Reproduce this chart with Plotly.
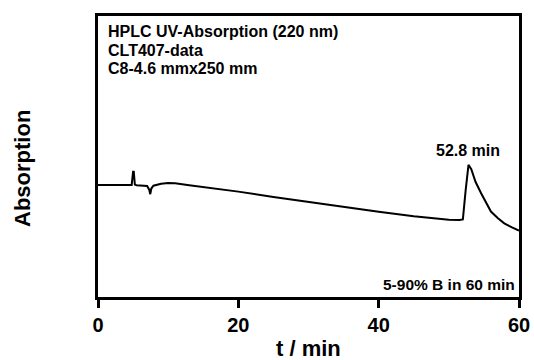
import plotly.graph_objects as go

# Chromatogram trace (time in min, absorption in arbitrary units)
t_min = [0, 4.8, 5.0, 5.1, 5.25, 5.5, 7.0, 7.3, 7.45, 7.6, 7.9, 9.0, 10.0, 11.0,
         13.0, 16.0, 20.0, 25.0, 30.0, 35.0, 40.0, 45.0, 48.0, 50.0, 51.5, 52.0,
         52.4, 52.8, 53.2, 53.8, 54.6, 55.3, 56.0, 57.0, 57.9, 59.0, 60.0]
absorption = [39.9, 39.9, 44.6, 44.6, 40.0, 39.8, 39.5, 38.2, 36.6, 38.6, 39.6, 40.3, 40.6, 40.5,
              39.8, 38.9, 37.5, 35.6, 33.8, 32.0, 30.3, 28.7, 27.9, 27.5, 27.4, 27.6,
              38.0, 47.0, 45.5, 41.0, 36.9, 33.4, 30.4, 28.0, 26.2, 24.8, 23.6]

x_ticks = [0, 20, 40, 60]
x_title = "t / min"
y_title = "Absorption"
peak_label = "52.8 min"
peak_time = 52.8
info_lines = ["HPLC UV-Absorption (220 nm)", "CLT407-data", "C8-4.6 mmx250 mm"]
gradient_text = "5-90% B in 60 min"

FONT = "Liberation Sans, Arial, sans-serif"
PLOT_H = 281  # plot area height in px
PLOT_W = 421  # plot area width in px

fig = go.Figure()
fig.add_trace(go.Scatter(x=t_min, y=absorption, mode="lines",
                         line=dict(color="black", width=2), hoverinfo="skip"))

fig.update_layout(
    width=534, height=360,
    margin=dict(l=98, r=15, t=16, b=63),
    plot_bgcolor="white", paper_bgcolor="white",
    showlegend=False,
    font=dict(family=FONT, color="black"),
)
fig.update_xaxes(range=[0, 60], tickvals=x_ticks, ticks="outside", ticklen=8, tickwidth=2.5,
                 tickcolor="black", showline=True, linewidth=2.5, linecolor="black", mirror=True,
                 showgrid=False, zeroline=False, automargin=False,
                 tickfont=dict(family=FONT, size=20, color="black", weight="bold"))
fig.update_yaxes(range=[0, 100], showticklabels=False, ticks="", showline=True, linewidth=2.5,
                 linecolor="black", mirror=True, showgrid=False, zeroline=False, automargin=False)

for i, line in enumerate(info_lines):
    fig.add_annotation(text="<b>%s</b>" % line, xref="paper", yref="paper", x=0.018,
                       y=1 - (15 + 19 * i) / PLOT_H, xanchor="left", yanchor="middle",
                       showarrow=False, font=dict(family=FONT, size=16))

fig.add_annotation(text="<b>%s</b>" % peak_label, x=peak_time, y=47.0, yshift=14,
                   xanchor="center", yanchor="middle", showarrow=False,
                   font=dict(family=FONT, size=16))

fig.add_annotation(text="<b>%s</b>" % gradient_text, xref="paper", yref="paper", x=0.995,
                   y=13 / PLOT_H, xanchor="right", yanchor="middle", showarrow=False,
                   font=dict(family=FONT, size=15.5))

fig.add_annotation(text="<b>%s</b>" % x_title, xref="paper", yref="paper", x=0.5,
                   y=-51 / PLOT_H, xanchor="center", yanchor="middle",
                   showarrow=False, font=dict(family=FONT, size=22))

fig.add_annotation(text="<b>%s</b>" % y_title, xref="paper", yref="paper", x=-(98 - 22) / PLOT_W,
                   y=(297 - 169) / PLOT_H, xanchor="center", yanchor="middle", textangle=-90,
                   showarrow=False, font=dict(family=FONT, size=22))

fig.write_html("out.html")
